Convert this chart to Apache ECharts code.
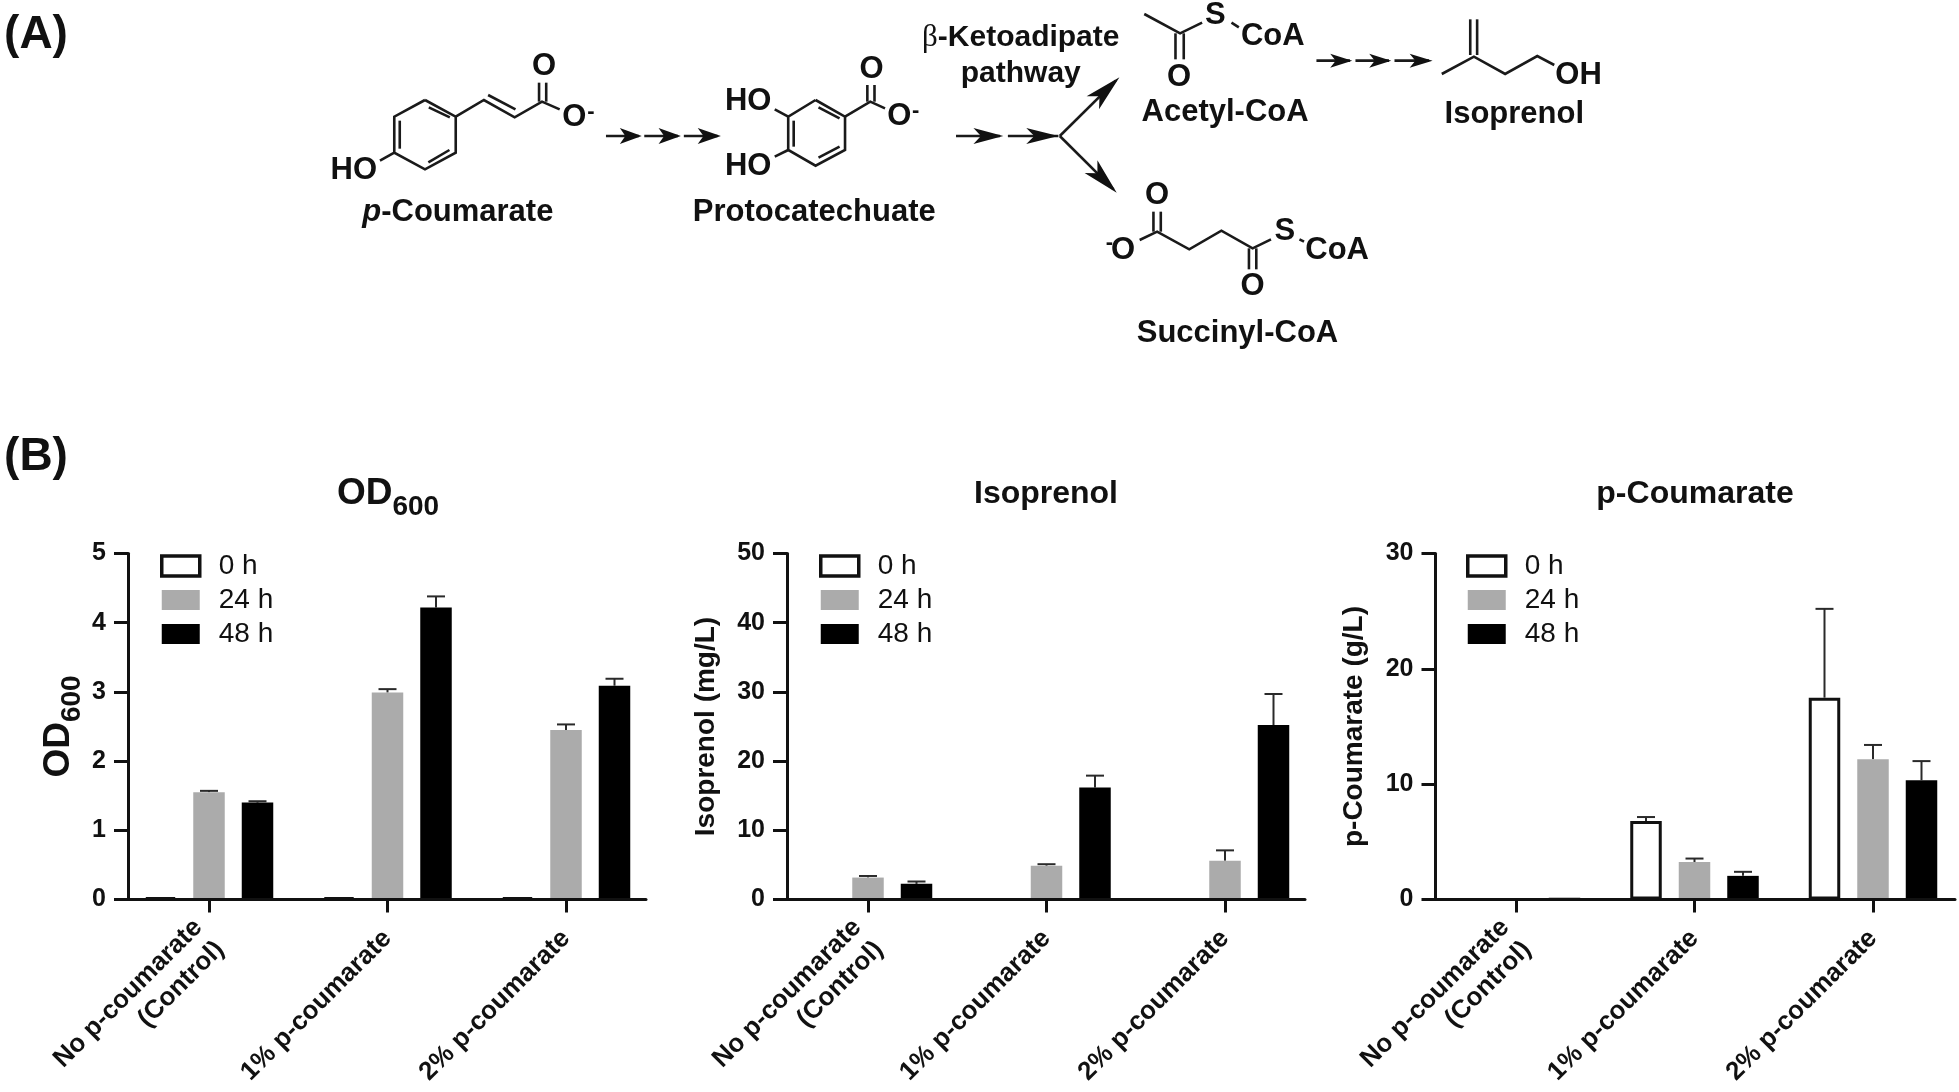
<!DOCTYPE html>
<html>
<head>
<meta charset="utf-8">
<style>html,body{margin:0;padding:0;background:#fff}#c{width:1959px;height:1092px}</style>
<script src="https://cdn.jsdelivr.net/npm/echarts@6/dist/echarts.min.js"></script>
</head>
<body>
<div id="c"></div>
<script>
// ---- chart data ----
const categories = ['No p-coumarate\n(Control)', '1% p-coumarate', '2% p-coumarate'];
const seriesNames = ['0 h', '24 h', '48 h'];

const od0h = [0.03, 0.03, 0.03];
const od24h = [1.55, 2.99, 2.45];
const od48h = [1.40, 4.22, 3.09];
const od0hTop = [null, null, null];
const od24hTop = [1.57, 3.04, 2.53];
const od48hTop = [1.42, 4.38, 3.19];

const iso0h = [0, 0, 0];
const iso24h = [3.17, 4.88, 5.6];
const iso48h = [2.26, 16.2, 25.2];
const iso0hTop = [null, null, null];
const iso24hTop = [3.4, 5.1, 7.1];
const iso48hTop = [2.6, 17.9, 29.7];

const pc0h = [0, 6.8, 17.5];
const pc24h = [0, 3.25, 12.15];
const pc48h = [0.15, 2.05, 10.35];
const pc0hTop = [null, 7.15, 25.2];
const pc24hTop = [null, 3.55, 13.4];
const pc48hTop = [null, 2.4, 12.0];

// ---- layout ----
const FONT = '"Liberation Sans", Arial, sans-serif';
const INK = '#111';
const TOP = 553.5, H = 346, BAND = 178.5, PITCH = 48.5, BAR_W = 31.5;
const panels = [
  {left: 128, right: 646, tick0: 209, max: 5, step: 1, gap: 42, legendLeft: 160, title: '{a|OD}{b|600}', titleX: 388, titleTop: 475,
   name: '{a|OD}{b|600}', vals: [od0h, od24h, od48h], tops: [od0hTop, od24hTop, od48hTop]},
  {left: 787, right: 1305, tick0: 868, max: 50, step: 10, gap: 67, legendLeft: 819, title: '{t|Isoprenol}', titleX: 1046, titleTop: 478,
   name: 'Isoprenol (mg/L)', vals: [iso0h, iso24h, iso48h], tops: [iso0hTop, iso24hTop, iso48hTop]},
  {left: 1435.5, right: 1955, tick0: 1516, max: 30, step: 10, gap: 67, legendLeft: 1466, title: '{t|p-Coumarate}', titleX: 1695, titleTop: 478,
   name: 'p-Coumarate (g/L)', vals: [pc0h, pc24h, pc48h], tops: [pc0hTop, pc24hTop, pc48hTop]}
];
const colors = ['#fff', '#ababab', '#000'];
const subRich = {
  a: {fontFamily: FONT, fontWeight: 'bold', fontSize: 37, color: INK, verticalAlign: 'top'},
  b: {fontFamily: FONT, fontWeight: 'bold', fontSize: 28, color: INK, verticalAlign: 'bottom', padding: [18, 0, 0, 0]}
};
const legendItems = seriesNames.map((nm, k) => k === 0
  ? {name: nm, itemStyle: {color: '#fff', borderColor: INK, borderWidth: 3.5}}
  : {name: nm, itemStyle: {color: colors[k], borderWidth: 0}});

const grids = [], xAxes = [], yAxes = [], series = [], legends = [], titles = [];
panels.forEach((p, i) => {
  grids.push({left: p.left, top: TOP, width: p.right - p.left, height: H, containLabel: false, outerBoundsMode: 'none'});
  xAxes.push({
    type: 'value', gridIndex: i, z: 5,
    min: (p.left - p.tick0) / BAND, max: (p.right - p.tick0) / BAND,
    splitLine: {show: false},
    axisLine: {show: true, onZero: true, lineStyle: {color: INK, width: 3}},
    axisTick: {show: true, customValues: [0, 1, 2], length: 13, lineStyle: {color: INK, width: 3}},
    axisLabel: {show: true, customValues: [0, 1, 2], rotate: 45, margin: 35, interval: 0,
      formatter: v => categories[Math.round(v)],
      fontFamily: FONT, fontWeight: 'bold', fontSize: 26, lineHeight: 31, color: INK, align: 'right'}
  });
  yAxes.push({
    type: 'value', gridIndex: i, min: 0, max: p.max, interval: p.step, z: 5,
    name: p.name, nameLocation: 'middle', nameRotate: 90, nameGap: p.gap,
    nameTextStyle: {fontFamily: FONT, fontWeight: 'bold', fontSize: 28, color: INK, rich: subRich},
    splitLine: {show: false},
    axisLine: {show: true, onZero: false, lineStyle: {color: INK, width: 3}},
    axisTick: {show: true, length: 14, lineStyle: {color: INK, width: 3}},
    axisLabel: {fontFamily: FONT, fontWeight: 'bold', fontSize: 25, color: INK, margin: 22}
  });
  titles.push({
    text: p.title, left: p.titleX, top: p.titleTop, textAlign: 'center', padding: 0,
    textStyle: {rich: Object.assign({t: {fontFamily: FONT, fontWeight: 'bold', fontSize: 32, color: INK}}, subRich)}
  });
  legends.push({
    data: legendItems, orient: 'vertical', left: p.legendLeft, top: 552, padding: 0, icon: 'rect',
    itemWidth: 38, itemHeight: 20, itemGap: 6, selectedMode: false,
    textStyle: {fontFamily: FONT, fontSize: 28, color: INK, padding: [0, 0, 0, 14]}
  });
  seriesNames.forEach((nm, k) => {
    const open = k === 0;
    series.push({
      type: 'bar', name: nm, xAxisIndex: i, yAxisIndex: i,
      barWidth: BAR_W, barGap: ((PITCH - BAR_W) / BAR_W * 100) + '%',
      data: p.vals[k].map((v, g) => [g, v]),
      itemStyle: {color: colors[k], borderColor: open ? INK : colors[k], borderWidth: open ? 3 : 0},
      animation: false, z: 3
    });
    series.push({
      type: 'custom', name: nm + ' error', xAxisIndex: i, yAxisIndex: i, z: 2, animation: false, silent: true,
      data: p.vals[k].map((v, g) => [g, v, p.tops[k][g]]).filter(d => d[2] !== null),
      encode: {x: 0, y: [1, 2]},
      renderItem: (params, api) => {
        const a = api.coord([api.value(0), api.value(1)]);
        const b = api.coord([api.value(0), api.value(2)]);
        const x = a[0] + (k - 1) * PITCH;
        const st = {stroke: '#2a2a2a', lineWidth: 2};
        return {type: 'group', children: [
          {type: 'line', shape: {x1: x, y1: a[1], x2: x, y2: b[1]}, style: st},
          {type: 'line', shape: {x1: x - 9, y1: b[1], x2: x + 9, y2: b[1]}, style: st}
        ]};
      }
    });
  });
});

// ---- reaction scheme, panel (A) (decoration drawn with graphic elements) ----
const z4 = (x, y) => [300 + x / 2.376, y / 3];
const z5 = (x, y) => [900 + x / 2.178, y / 3];
const g = [];
const bond = (m, pts, w) => {
  const q = pts.map(p => m(p[0], p[1]));
  g.push({type: 'polyline', silent: true, shape: {points: q}, style: {stroke: '#1a1a1a', lineWidth: w || 2.6, fill: null}});
};
const txt = (m, x, y, text, size, extra) => {
  const q = m(x, y);
  g.push({type: 'text', silent: true, x: q[0], y: q[1], style: Object.assign({
    text, font: 'bold ' + size + 'px ' + FONT, fill: INK, align: 'center', verticalAlign: 'middle'}, extra || {})});
};
const head = (m, tipZ, baseZ, half) => {
  const tip = m(tipZ[0], tipZ[1]), base = m(baseZ[0], baseZ[1]);
  const dx = tip[0] - base[0], dy = tip[1] - base[1], l = Math.hypot(dx, dy);
  const nx = -dy / l, ny = dx / l;
  const pts = [tip, [base[0] + nx * half, base[1] + ny * half],
    [base[0] + dx * .25, base[1] + dy * .25], [base[0] - nx * half, base[1] - ny * half]];
  g.push({type: 'polygon', silent: true, shape: {points: pts}, style: {fill: '#111'}});
};
// p-Coumarate
bond(z4, [[297,300],[370,350],[370,458],[297,508],[224,458],[224,350],[297,300]]);
bond(z4, [[237,362],[237,446]]); bond(z4, [[306,322],[356,352]]); bond(z4, [[305,487],[355,450]]);
bond(z4, [[370,350],[437,300],[510,352],[575,305],[617,328]]);
bond(z4, [[447,285],[512,328]]); bond(z4, [[568,305],[568,248]]); bond(z4, [[585,305],[585,248]]);
bond(z4, [[224,458],[190,482]]);
txt(z4, 580, 198, 'O', 31); txt(z4, 652, 352, 'O', 31); txt(z4, 691, 336, '-', 22); txt(z4, 128, 510, 'HO', 31);
g.push({type: 'text', silent: true, x: z4(375, 638)[0], y: z4(375, 638)[1], style: {
  text: '{i|p}{b|-Coumarate}', align: 'center', verticalAlign: 'middle',
  rich: {i: {font: 'italic bold 31px ' + FONT, fill: INK}, b: {font: 'bold 31px ' + FONT, fill: INK}}}});
// arrows 1
bond(z4, [[727,408],[805,408]]); bond(z4, [[818,408],[898,408]]); bond(z4, [[912,408],[992,408]]);
head(z4, [812,408], [760,408], 8); head(z4, [905,408], [852,408], 8); head(z4, [1000,408], [945,408], 8);
// Protocatechuate
bond(z4, [[1225,300],[1295,350],[1295,450],[1225,497],[1160,450],[1160,350],[1225,300]]);
bond(z4, [[1173,362],[1173,440]]); bond(z4, [[1232,322],[1282,355]]); bond(z4, [[1232,473],[1282,440]]);
bond(z4, [[1295,350],[1355,305],[1390,325]]);
bond(z4, [[1348,305],[1348,255]]); bond(z4, [[1365,305],[1365,255]]);
bond(z4, [[1160,350],[1128,328]]); bond(z4, [[1160,450],[1128,470]]);
txt(z4, 1358, 207, 'O', 31); txt(z4, 1424, 350, 'O', 31); txt(z4, 1463, 333, '-', 22);
txt(z4, 1065, 305, 'HO', 31); txt(z4, 1065, 500, 'HO', 31);
txt(z4, 1222, 636, 'Protocatechuate', 31);
// branch arrows
bond(z5, [[122,408],[218,408]]); bond(z5, [[235,408],[345,408]]);
head(z5, [225,408], [160,408], 8); head(z5, [345,408], [275,408], 8);
bond(z5, [[348,408],[470,242]]); bond(z5, [[348,408],[465,568]]);
head(z5, [478,232], [420,308], 9); head(z5, [472,578], [416,500], 9);
const betaPos = z5(263, 113);
g.push({type: 'text', silent: true, x: betaPos[0], y: betaPos[1], style: {
  text: '{r|β}{b|-Ketoadipate}', align: 'center', verticalAlign: 'middle',
  rich: {r: {font: '31px "Liberation Serif", serif', fill: INK}, b: {font: 'bold 30px ' + FONT, fill: INK}}}});
txt(z5, 263, 222, 'pathway', 30);
// Acetyl-CoA
bond(z5, [[532,42],[610,100],[658,68]]); bond(z5, [[600,100],[600,178]]); bond(z5, [[618,100],[618,178]]);
bond(z5, [[722,68],[738,82]]);
txt(z5, 687, 45, 'S', 31); txt(z5, 812, 108, 'CoA', 31); txt(z5, 608, 232, 'O', 31);
txt(z5, 708, 336, 'Acetyl-CoA', 31);
// arrows 2
bond(z5, [[907,182],[980,182]]); bond(z5, [[992,182],[1065,182]]); bond(z5, [[1077,182],[1152,182]]);
head(z5, [985,182], [937,182], 7); head(z5, [1070,182], [1022,182], 7); head(z5, [1160,182], [1110,182], 7);
// Isoprenol
bond(z5, [[1242,58],[1242,165]]); bond(z5, [[1257,58],[1257,165]]);
bond(z5, [[1180,222],[1250,170],[1318,222],[1388,168],[1425,195]]);
txt(z5, 1478, 225, 'OH', 31); txt(z5, 1338, 344, 'Isoprenol', 31);
// Succinyl-CoA
bond(z5, [[522,720],[560,695],[630,748],[700,692],[768,745],[808,718]]);
bond(z5, [[552,695],[552,635]]); bond(z5, [[568,695],[568,635]]);
bond(z5, [[760,745],[760,808]]); bond(z5, [[776,745],[776,808]]);
bond(z5, [[870,718],[880,725]]);
txt(z5, 486, 752, 'O', 31); txt(z5, 456, 728, '-', 22); txt(z5, 560, 585, 'O', 31); txt(z5, 768, 860, 'O', 31);
txt(z5, 838, 695, 'S', 31); txt(z5, 952, 752, 'CoA', 31); txt(z5, 735, 1001, 'Succinyl-CoA', 31);
// panel letters
const id = (x, y) => [x, y];
txt(id, 36, 35, '(A)', 46); txt(id, 36, 457, '(B)', 46);

const chart = echarts.init(document.getElementById('c'), null, {renderer: 'canvas', width: 1959, height: 1092});
chart.setOption({
  backgroundColor: '#fff', animation: false,
  title: titles, legend: legends, grid: grids, xAxis: xAxes, yAxis: yAxes, series,
  graphic: {elements: g}
});
</script>
</body>
</html>
